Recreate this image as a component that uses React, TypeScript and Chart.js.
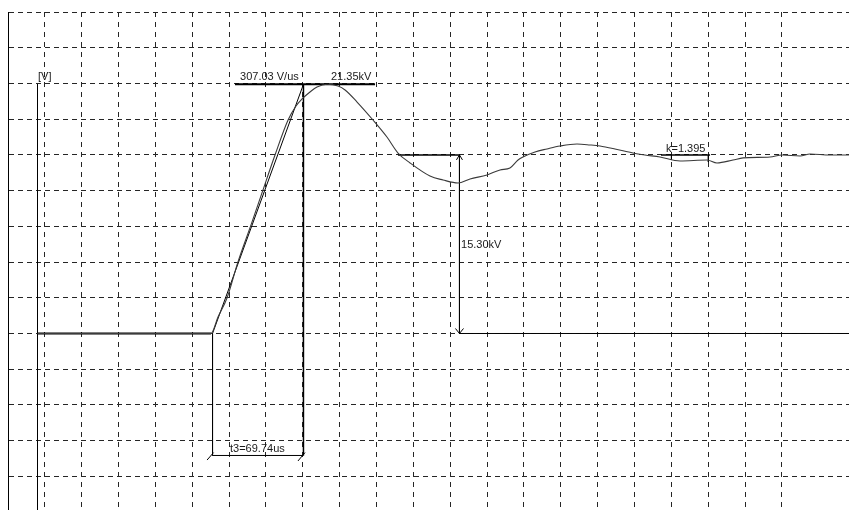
import { useEffect, useRef } from "react";
import { Chart, registerables } from "chart.js";

Chart.register(...registerables);

// Grid: one horizontal division = 28.25 us, one vertical division = 3.06 kV
const X_STEP = 28.25;
const Y_STEP = 3.06;
const X_MIN = 0;
const X_MAX = 644.72;
const Y_MAX = 27.54;
const Y_MIN = -15.12;

// Measured impulse waveform (time in us, voltage in kV)
const TIME_US = [
  22.6, 155.6, 161.0, 167.9, 176.3, 186.3, 194.7, 204.7, 214.7, 220.8, 225.4,
  231.5, 236.9, 244.6, 253.0, 258.4, 267.6, 279.8, 290.5, 299.0, 308.2, 323.5,
  333.5, 345.0, 354.2, 367.2, 377.2, 384.8, 391.0, 394.8, 404.0, 413.2, 423.2,
  436.2, 446.2, 453.8, 465.3, 479.1, 488.3, 499.8, 515.2, 535.9, 543.5, 555.8,
  563.5, 584.2, 593.4, 607.2, 614.8, 630.2, 644.7,
];
const VOLT_KV = [
  0, 0, 1.41, 3.04, 6.13, 9.3, 12.04, 15.29, 18.29, 19.49, 20.09,
  20.69, 21.12, 21.35, 21.2, 20.86, 19.83, 18.29, 16.83, 15.46, 14.61, 13.49,
  13.15, 12.89, 13.24, 13.58, 14.01, 14.18, 14.86, 15.12, 15.55, 15.81, 16.06,
  16.23, 16.15, 16.06, 15.81, 15.46, 15.29, 15.12, 14.78, 14.86, 14.61, 14.86,
  15.04, 15.12, 15.29, 15.21, 15.38, 15.29, 15.29,
];

// Measurement values
const PEAK_KV = 21.35;
const STEADY_KV = 15.3;
const FRONT_START_US = 156.8;
const FRONT_END_US = 226.5;
const T3_MARK_KV = -10.45;
const Y_AXIS_US = 22.62;
const DELTA_US = 346.1;

// Annotation polylines (x in us, y in kV)
const AXIS_LINE_X = [Y_AXIS_US, Y_AXIS_US];
const AXIS_LINE_Y = [PEAK_KV, -16];
const BASE_LINE_X = [Y_AXIS_US, 155.6];
const BASE_LINE_Y = [0, 0];
const TANGENT_X = [FRONT_START_US, FRONT_END_US];
const TANGENT_Y = [0, PEAK_KV];
const PEAK_LINE_X = [174.0, 281.4];
const PEAK_LINE_Y = [PEAK_KV, PEAK_KV];
const T3_RIGHT_X = [FRONT_END_US, FRONT_END_US];
const T3_RIGHT_Y = [PEAK_KV, T3_MARK_KV];
const T3_BRACKET_X = [FRONT_START_US, FRONT_START_US, FRONT_END_US];
const T3_BRACKET_Y = [0, T3_MARK_KV, T3_MARK_KV];
const T3_TICK_L_X = [152.6, 157.6];
const T3_TICK_L_Y = [-10.84, -10.2];
const T3_TICK_R_X = [222.3, 227.7];
const T3_TICK_R_Y = [-10.92, -10.2];
const STEADY_LINE_X = [299.0, DELTA_US];
const STEADY_LINE_Y = [STEADY_KV, STEADY_KV];
const DELTA_LINE_X = [DELTA_US, DELTA_US, X_MAX];
const DELTA_LINE_Y = [STEADY_KV, 0, 0];
const ARROW_TOP_X = [343.8, DELTA_US, 348.4];
const ARROW_TOP_Y = [14.87, STEADY_KV, 14.87];
const ARROW_BOT_X = [343.0, DELTA_US, 349.2];
const ARROW_BOT_Y = [0.43, 0, 0.43];
const K_LINE_X = [500.6, 538.2];
const K_LINE_Y = [STEADY_KV, STEADY_KV];
const K_TICK_L_X = [508.6, 508.6];
const K_TICK_L_Y = [STEADY_KV, 14.86];
const K_TICK_R_X = [536.9, 536.9];
const K_TICK_R_Y = [STEADY_KV, 14.69];

// Text labels anchored in data units (left, baseline)
const LABEL_TEXT = ["[V]", "307.03 V/us", "21.35kV", "k=1.395", "15.30kV", "t3=69.74us"];
const LABEL_X = [23.0, 177.9, 247.6, 504.4, 347.3, 170.2];
const LABEL_Y = [21.72, 21.72, 21.72, 15.55, 7.32, -10.15];

const GRID = "#262626";
const INK = "#000000";
const TRACE = "#3a3a3a";

const pts = (xs: number[], ys: number[]) => xs.map((x, i) => ({ x, y: ys[i] }));

const onGrid = (v: number, step: number) =>
  Math.abs(v / step - Math.round(v / step)) < 1e-3;

const line = (xs: number[], ys: number[], width = 1, color = INK) => ({
  data: pts(xs, ys),
  showLine: true,
  borderColor: color,
  borderWidth: width,
  pointRadius: 0,
  fill: false,
  tension: 0,
});

const labelPlugin = {
  id: "measureLabels",
  afterDatasetsDraw(chart: any) {
    const { ctx, scales } = chart;
    ctx.save();
    ctx.font = '11px "Liberation Sans", Arial, sans-serif';
    ctx.fillStyle = "#1a1a1a";
    ctx.textAlign = "left";
    ctx.textBaseline = "alphabetic";
    LABEL_TEXT.forEach((t, i) => {
      ctx.fillText(t, scales.x.getPixelForValue(LABEL_X[i]), scales.y.getPixelForValue(LABEL_Y[i]));
    });
    ctx.restore();
  },
};

export default function App() {
  const ref = useRef<HTMLCanvasElement>(null);
  useEffect(() => {
    if (!ref.current) return;
    const chart = new Chart(ref.current, {
      type: "scatter",
      data: {
        datasets: [
          {
            ...line(TIME_US, VOLT_KV, 1.1, TRACE),
            cubicInterpolationMode: "monotone",
          } as any,
          line(BASE_LINE_X, BASE_LINE_Y, 2),
          line(AXIS_LINE_X, AXIS_LINE_Y, 1),
          line(TANGENT_X, TANGENT_Y, 1),
          line(PEAK_LINE_X, PEAK_LINE_Y, 2),
          line(T3_RIGHT_X, T3_RIGHT_Y, 1.5),
          line(T3_BRACKET_X, T3_BRACKET_Y, 1),
          line(T3_TICK_L_X, T3_TICK_L_Y, 1),
          line(T3_TICK_R_X, T3_TICK_R_Y, 1),
          line(STEADY_LINE_X, STEADY_LINE_Y, 1.5),
          line(DELTA_LINE_X, DELTA_LINE_Y, 1),
          line(ARROW_TOP_X, ARROW_TOP_Y, 1),
          line(ARROW_BOT_X, ARROW_BOT_Y, 1),
          line(K_LINE_X, K_LINE_Y, 1.5),
          line(K_TICK_L_X, K_TICK_L_Y, 1),
          line(K_TICK_R_X, K_TICK_R_Y, 1),
        ],
      },
      options: {
        animation: false,
        responsive: false,
        devicePixelRatio: 1,
        layout: { padding: { left: 8, top: 12, right: 0, bottom: 0 } },
        plugins: { legend: { display: false }, tooltip: { enabled: false } },
        scales: {
          x: {
            type: "linear",
            min: X_MIN,
            max: X_MAX,
            ticks: { display: false, stepSize: X_STEP },
            grid: {
              drawTicks: false,
              lineWidth: 1,
              color: (c: any) =>
                c.tick && onGrid(c.tick.value, X_STEP) ? GRID : "rgba(0,0,0,0)",
            },
            border: { display: false, dash: [5, 5] },
          },
          y: {
            type: "linear",
            min: Y_MIN,
            max: Y_MAX,
            ticks: { display: false, stepSize: Y_STEP },
            grid: {
              drawTicks: false,
              lineWidth: 1,
              color: (c: any) =>
                c.tick && onGrid(c.tick.value, Y_STEP) ? GRID : "rgba(0,0,0,0)",
            },
            border: { display: true, color: INK, width: 1, dash: [5, 4] },
          },
        },
      },
      plugins: [labelPlugin],
    });
    return () => chart.destroy();
  }, []);
  return (
    <div style={{ position: "fixed", left: 0, top: 0, width: 849, height: 510 }}>
      <canvas ref={ref} width={849} height={510} style={{ display: "block" }} />
    </div>
  );
}
